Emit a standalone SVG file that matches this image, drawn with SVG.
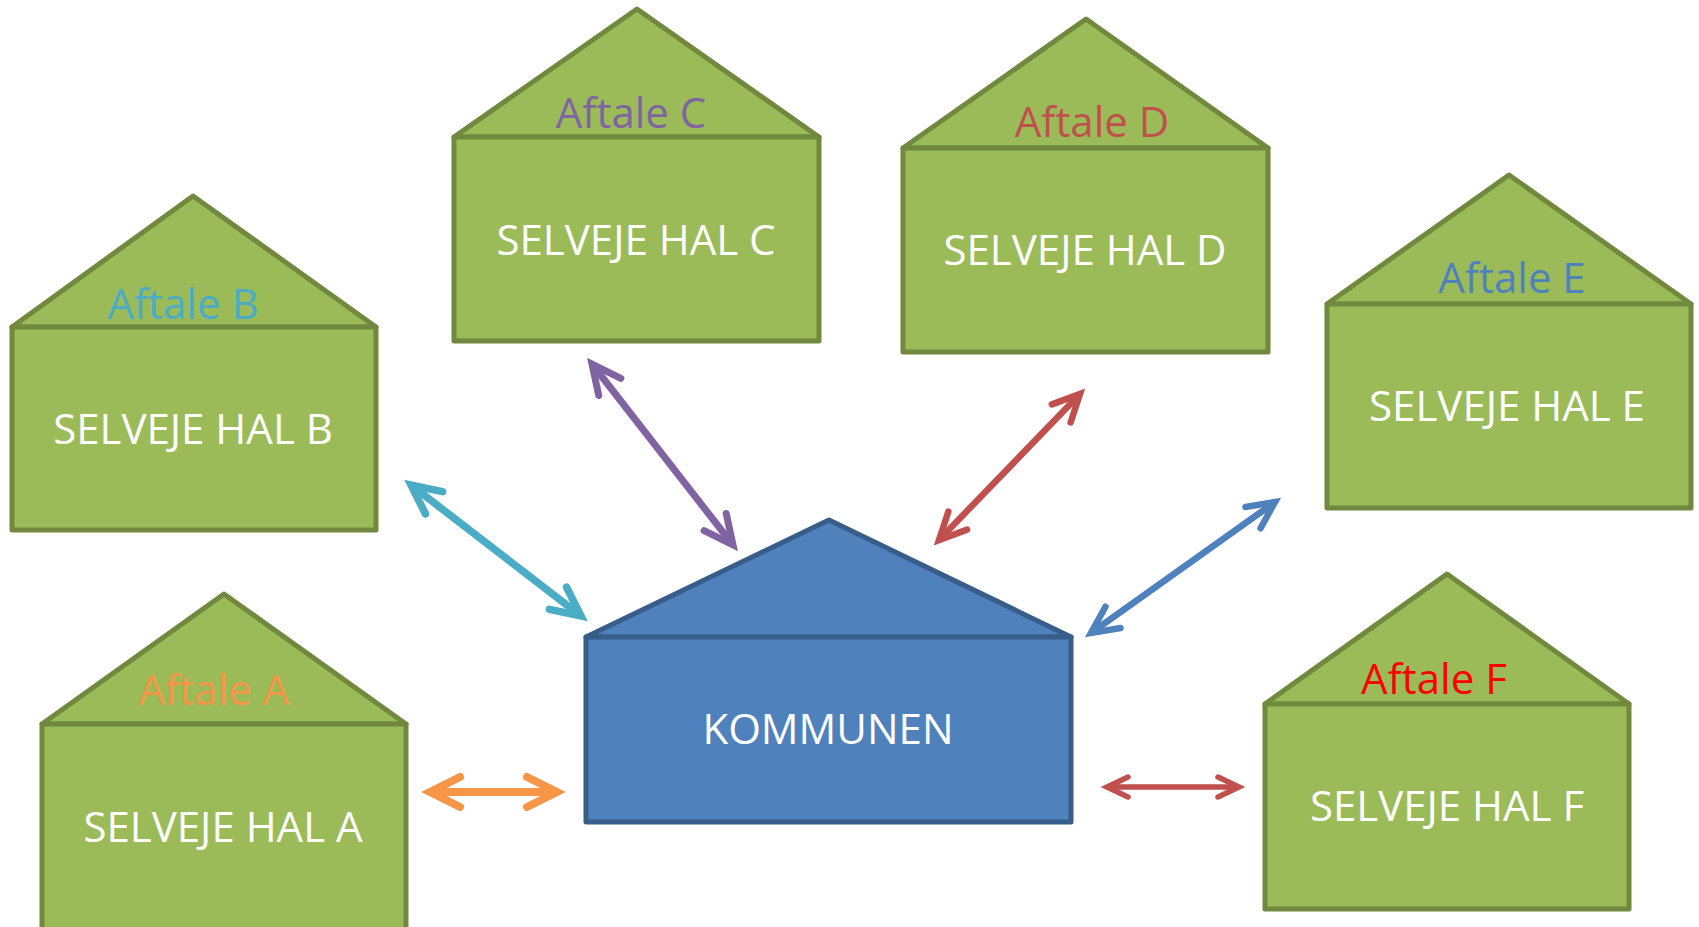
<svg xmlns="http://www.w3.org/2000/svg" width="1699" height="927" viewBox="0 0 1699 927">
<style>
.g{fill:#9BBB59;stroke:#71893F;stroke-width:5;stroke-linejoin:round}
.k{fill:#4F81BD;stroke:#385D8A;stroke-width:5;stroke-linejoin:round}
.t{font-family:"Open Sans","Noto Sans",sans-serif;font-size:42px;text-anchor:middle}
.w{fill:#FFFFFF}
.c{fill:none;stroke-linecap:butt}
.h{fill:none;stroke-linecap:round;stroke-linejoin:miter;stroke-miterlimit:10}
</style>
<defs>
<marker id="mA" markerUnits="userSpaceOnUse" orient="auto-start-reverse" refX="0" refY="0" markerWidth="80" markerHeight="80" viewBox="-50 -40 80 80" overflow="visible"><path class="h" d="M-30,-15 L0,0 L-30,15" stroke="#F79646" stroke-width="8"/></marker>
<marker id="mB" markerUnits="userSpaceOnUse" orient="auto-start-reverse" refX="0" refY="0" markerWidth="80" markerHeight="80" viewBox="-50 -40 80 80" overflow="visible"><path class="h" d="M-29,-14 L0,0 L-29,14" stroke="#4BACC6" stroke-width="7.5"/></marker>
<marker id="mC" markerUnits="userSpaceOnUse" orient="auto-start-reverse" refX="0" refY="0" markerWidth="80" markerHeight="80" viewBox="-50 -40 80 80" overflow="visible"><path class="h" d="M-29,-14 L0,0 L-29,14" stroke="#8064A2" stroke-width="7"/></marker>
<marker id="mD" markerUnits="userSpaceOnUse" orient="auto-start-reverse" refX="0" refY="0" markerWidth="80" markerHeight="80" viewBox="-50 -40 80 80" overflow="visible"><path class="h" d="M-27,-13 L0,0 L-27,13" stroke="#C0504D" stroke-width="6.5"/></marker>
<marker id="mE" markerUnits="userSpaceOnUse" orient="auto-start-reverse" refX="0" refY="0" markerWidth="80" markerHeight="80" viewBox="-50 -40 80 80" overflow="visible"><path class="h" d="M-27,-13 L0,0 L-27,13" stroke="#4F81BD" stroke-width="6.5"/></marker>
<marker id="mF" markerUnits="userSpaceOnUse" orient="auto-start-reverse" refX="0" refY="0" markerWidth="80" markerHeight="80" viewBox="-50 -40 80 80" overflow="visible"><path class="h" d="M-21,-10 L0,0 L-21,10" stroke="#C0504D" stroke-width="5.5"/></marker>
</defs>
<rect width="1699" height="927" fill="#FFFFFF"/>

<g id="hal-a">
<polygon class="g" points="42,724 224,594 406,724"/>
<rect class="g" x="42" y="724" width="364" height="215"/>
<text class="t" x="214" y="705" fill="#F79646">Aftale A</text>
<text class="t w" x="223" y="842">SELVEJE HAL A</text>
</g>

<g id="hal-b">
<polygon class="g" points="12,327 193,196 376,327"/>
<rect class="g" x="12" y="327" width="364" height="203"/>
<text class="t" x="183" y="319" fill="#4BACC6">Aftale B</text>
<text class="t w" x="193" y="444">SELVEJE HAL B</text>
</g>

<g id="hal-c">
<polygon class="g" points="454,137 637,9 819,137"/>
<rect class="g" x="454" y="137" width="365" height="204"/>
<text class="t" x="631" y="128" fill="#8064A2">Aftale C</text>
<text class="t w" x="636" y="255">SELVEJE HAL C</text>
</g>

<g id="hal-d">
<polygon class="g" points="903,148 1086,19 1268,148"/>
<rect class="g" x="903" y="148" width="365" height="204"/>
<text class="t" x="1092" y="137" fill="#C0504D">Aftale D</text>
<text class="t w" x="1085" y="265">SELVEJE HAL D</text>
</g>

<g id="hal-e">
<polygon class="g" points="1327,304 1509,175 1691,304"/>
<rect class="g" x="1327" y="304" width="364" height="204"/>
<text class="t" x="1512" y="293" fill="#4F81BD">Aftale E</text>
<text class="t w" x="1507" y="421">SELVEJE HAL E</text>
</g>

<g id="hal-f">
<polygon class="g" points="1265,704 1447,574 1629,704"/>
<rect class="g" x="1265" y="704" width="364" height="205"/>
<text class="t" x="1434" y="694" fill="#FF0000">Aftale F</text>
<text class="t w" x="1447" y="821">SELVEJE HAL F</text>
</g>

<g id="kommunen">
<polygon class="k" points="586,637 829,520 1071,637"/>
<rect class="k" x="586" y="637" width="485" height="185"/>
<text class="t w" x="828" y="744">KOMMUNEN</text>
</g>

<g id="connectors">
<line class="c" x1="430" y1="792" x2="557" y2="792" stroke="#F79646" stroke-width="8" marker-start="url(#mA)" marker-end="url(#mA)"/>
<line class="c" x1="411" y1="485" x2="581" y2="616" stroke="#4BACC6" stroke-width="7.5" marker-start="url(#mB)" marker-end="url(#mB)"/>
<line class="c" x1="592" y1="364" x2="733" y2="545" stroke="#8064A2" stroke-width="7" marker-start="url(#mC)" marker-end="url(#mC)"/>
<line class="c" x1="1080" y1="394" x2="939" y2="540" stroke="#C0504D" stroke-width="6.5" marker-start="url(#mD)" marker-end="url(#mD)"/>
<line class="c" x1="1275" y1="502" x2="1091" y2="633" stroke="#4F81BD" stroke-width="6.5" marker-start="url(#mE)" marker-end="url(#mE)"/>
<line class="c" x1="1107" y1="787" x2="1239" y2="787" stroke="#C0504D" stroke-width="5.5" marker-start="url(#mF)" marker-end="url(#mF)"/>
</g>
</svg>
